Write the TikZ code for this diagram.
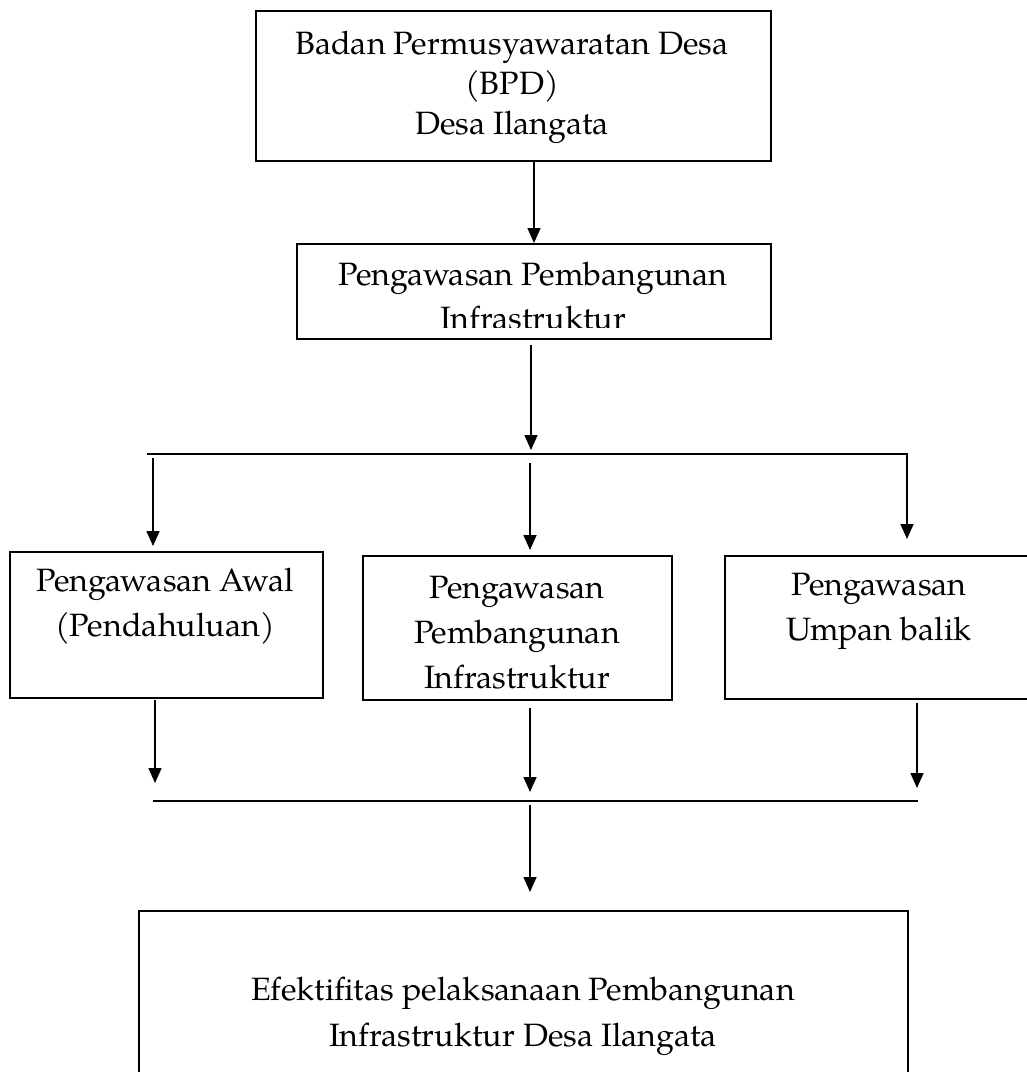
\documentclass[tikz,border=0pt]{standalone}
\usepackage{fontspec}
\setmainfont{TeX Gyre Pagella}
\usetikzlibrary{arrows.meta}
\begin{document}
\begin{tikzpicture}[x=1pt,y=-1pt,
  box/.style={draw, line width=1.7pt, inner sep=0pt, anchor=north west},
  txt/.style={align=center, inner sep=0pt, font=\fontsize{32.3}{45}\selectfont},
  arr/.style={line width=1.6pt, -{Triangle[length=15pt,width=13pt]}},
  bar/.style={line width=1.7pt}]
\useasboundingbox (0,0) rectangle (1027,1072);
\clip (0,0) rectangle (1027,1072);
% boxes
\node[box, minimum width=515, minimum height=150] (bpd) at (255,10) {};
\node[txt, font=\fontsize{32.3}{40}\selectfont] (bpdtxt) at (512,87) {Badan Permusyawaratan Desa\\(BPD)\\Desa Ilangata};
\node[box, minimum width=474, minimum height=95] (pengawasan) at (296,243) {};
\begin{scope}
\clip (pengawasan.north west) rectangle (770,327);
\node[txt, font=\fontsize{32.3}{44}\selectfont] (pengawasantxt) at (533,296) {Pengawasan Pembangunan\\Infrastruktur};
\end{scope}
\node[box, minimum width=313, minimum height=146] (awal) at (9,551) {};
\node[txt] (awaltxt) at (165,606) {Pengawasan Awal\\(Pendahuluan)};
\node[box, minimum width=309, minimum height=144] (pelaks) at (362,555) {};
\node[txt] (pelakstxt) at (517,633) {Pengawasan\\Pembangunan\\Infrastruktur};
\node[box, minimum width=320, minimum height=143] (umpan) at (724,555) {};
\node[txt] (umpantxt) at (879,611) {Pengawasan\\Umpan balik};
\node[box, minimum width=769, minimum height=200] (efek) at (138,910) {};
\node[txt, font=\fontsize{32.3}{46}\selectfont] (efektxt) at (523,1016) {Efektifitas pelaksanaan Pembangunan\\Infrastruktur Desa Ilangata};
% bars
\coordinate (b1L) at (147,454);
\coordinate (b1R) at (908,454);
\coordinate (b2L) at (153,801);
\coordinate (b2R) at (918,801);
\draw[bar] (b1L) -- (b1R);
\draw[bar] (b2L) -- (b2R);
% arrows
\coordinate (x1) at (534,0);
\coordinate (x2) at (531,0);
\draw[arr] (bpd.south -| x1) -- (pengawasan.north -| x1);
\draw[arr] ([yshift=-5pt]pengawasan.south -| x2) -- ([yshift=4pt]b1L -| x2);
\coordinate (xa) at (153,0);
\coordinate (xb) at (530,0);
\coordinate (xc) at (907,0);
\draw[arr] ([yshift=-4pt]b1L -| xa) -- ([yshift=5pt]awal.north -| xa);
\draw[arr] ([yshift=-9pt]b1L -| xb) -- ([yshift=5pt]pelaks.north -| xb);
\draw[arr] (b1R -| xc) -- ([yshift=16pt]umpan.north -| xc);
\coordinate (xd) at (155,0);
\coordinate (xe) at (530,0);
\coordinate (xf) at (917,0);
\draw[arr] ([yshift=-1pt]awal.south -| xd) -- ([yshift=18pt]b2L -| xd);
\draw[arr] ([yshift=-7pt]pelaks.south -| xe) -- ([yshift=9pt]b2L -| xe);
\draw[arr] ([yshift=-3pt]umpan.south -| xf) -- ([yshift=13pt]b2L -| xf);
\draw[arr] ([yshift=-4pt]b2L -| xb) -- ([yshift=18pt]efek.north -| xb);
\end{tikzpicture}
\end{document}
